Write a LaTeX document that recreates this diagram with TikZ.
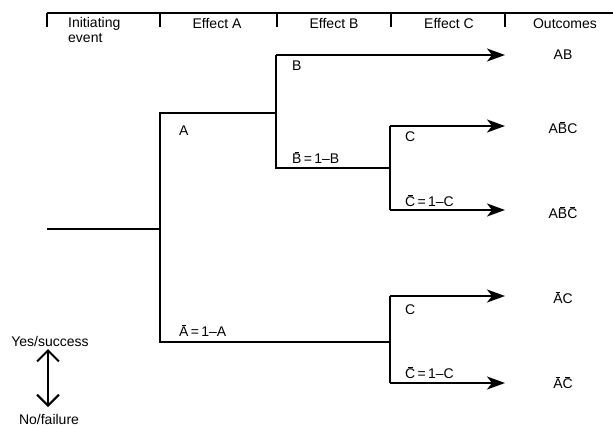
\documentclass[tikz,border=0pt]{standalone}
\usepackage{fontspec}
\setmainfont{Liberation Sans}
\usetikzlibrary{arrows.meta}
\newcommand\ovl[1]{\setbox0\hbox{#1}\leavevmode\rlap{\hbox to \wd0{\hss\raisebox{\dimexpr\ht0+1.4pt\relax}{\rule{0.5\wd0}{0.7pt}}\hss}}\box0}
\begin{document}
\begin{tikzpicture}[x=1pt,y=-1pt,
  line/.style={line width=1.8pt},
  arr/.style={line width=1.8pt,-{Stealth[length=18pt,width=13pt,inset=5pt]}},
  txt/.style={font=\fontsize{14}{14.5}\selectfont,inner sep=0pt},
  lbl/.style={txt,anchor=west},
  hdr/.style={line width=1.4pt}]
\useasboundingbox (0,0) rectangle (613,428);
% header
\coordinate (h0) at (47,13);
\coordinate (h1) at (160,13);
\coordinate (h2) at (277,13);
\coordinate (h3) at (391,13);
\coordinate (h4) at (505,13);
\coordinate (hend) at (613,13);
\draw[hdr] (h0) -- (hend);
\foreach \h in {h0,h1,h2,h3,h4} \draw[hdr] (\h) -- ++(0,14);
\node[txt,anchor=west] (tinit) at (68,24) {Initiating};
\node[txt,anchor=west] (tinit2) at (68,38) {event};
\node[txt] (tA) at (217,24) {Effect A};
\node[txt] (tB) at (334,24) {Effect B};
\node[txt] (tC) at (449,24) {Effect C};
\node[txt] (tO) at (565,24) {Outcomes};
% tree points
\coordinate (start) at (47,229);
\coordinate (nA) at (160,229);
\coordinate (aTop) at (160,113);
\coordinate (aBot) at (160,342);
\coordinate (bTop) at (276,55);
\coordinate (bMid) at (276,113);
\coordinate (bBot) at (276,168);
\coordinate (c1Top) at (390,126);
\coordinate (c1Mid) at (390,168);
\coordinate (c1Bot) at (390,210);
\coordinate (c2Top) at (390,296);
\coordinate (c2Mid) at (390,342);
\coordinate (c2Bot) at (390,383);
\coordinate (e1) at (505,55);
\coordinate (e2) at (505,126);
\coordinate (e3) at (505,210);
\coordinate (e4) at (505,296);
\coordinate (e5) at (505,383);
\draw[line] (start) -- (nA);
\draw[line] (bMid) -- (aTop) -- (aBot) -- (c2Mid);
\draw[line] (bTop) -- (bBot) -- (c1Mid);
\draw[line] (c1Top) -- (c1Bot);
\draw[line] (c2Top) -- (c2Bot);
\draw[arr] (bTop) -- (e1);
\draw[arr] (c1Top) -- (e2);
\draw[arr] (c1Bot) -- (e3);
\draw[arr] (c2Top) -- (e4);
\draw[arr] (c2Bot) -- (e5);
% branch labels
\node[lbl] (lA) at (179,131) {A};
\node[lbl] (lAb) at (179,331) {\ovl{A}\,=\,1--A};
\node[lbl] (lB) at (292,66) {B};
\node[lbl] (lBb) at (292,158) {\ovl{B}\,=\,1--B};
\node[lbl] (lC1) at (405,137) {C};
\node[lbl] (lC1b) at (405,201) {\ovl{C}\,=\,1--C};
\node[lbl] (lC2) at (405,310) {C};
\node[lbl] (lC2b) at (405,373) {\ovl{C}\,=\,1--C};
% outcomes
\node[txt] (o1) at (563,55) {AB};
\node[txt] (o2) at (563,128) {A\ovl{B}C};
\node[txt] (o3) at (563,213) {A\ovl{B}\ovl{C}};
\node[txt] (o4) at (563,298) {\ovl{A}C};
\node[txt] (o5) at (563,383) {\ovl{A}\ovl{C}};
% legend
\node[txt] (yes) at (50,341) {Yes/success};
\node[txt] (no) at (49,419) {No/failure};
\coordinate (lgTop) at (48,349);
\coordinate (lgBot) at (48,407);
\draw[line width=2pt,{Straight Barb[length=11pt,width=22pt]}-{Straight Barb[length=11pt,width=22pt]}] (lgTop) -- (lgBot);
\end{tikzpicture}
\end{document}
